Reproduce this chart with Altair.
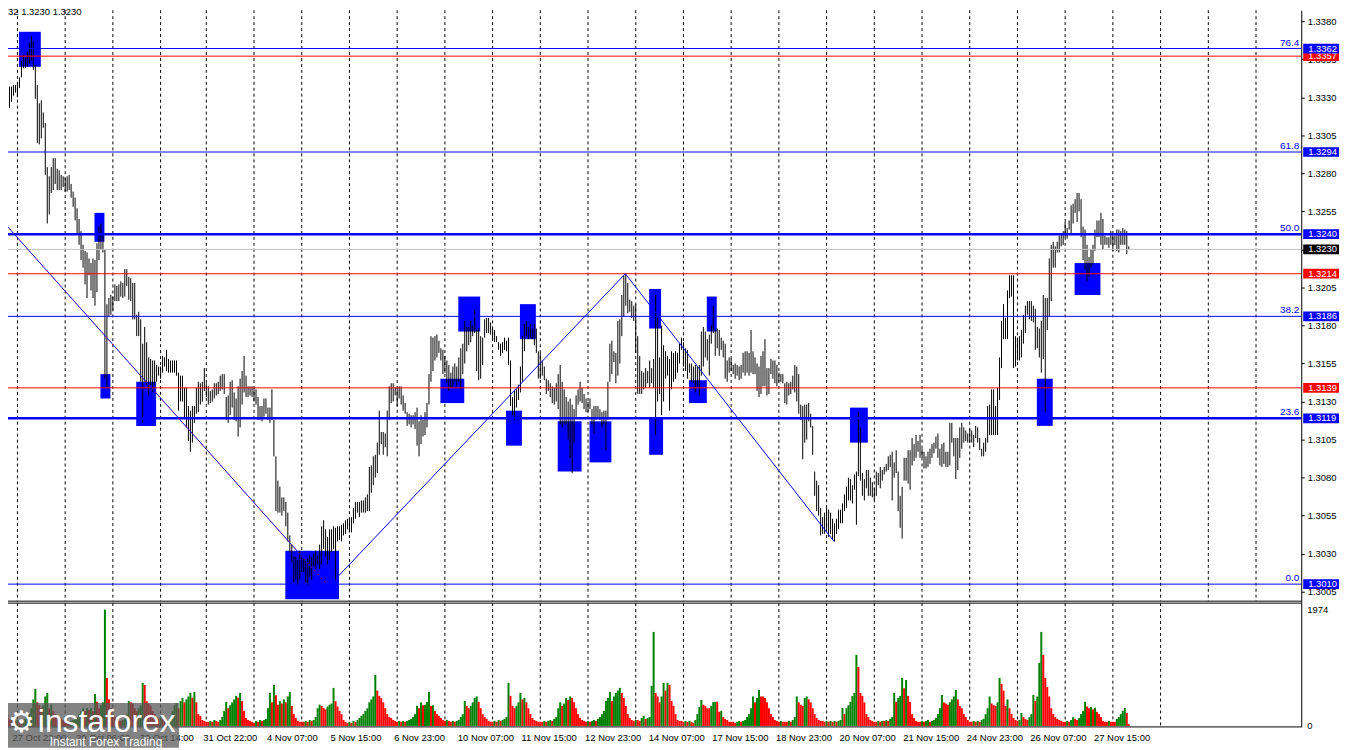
import altair as alt
import pandas as pd

# ---------------- data ----------------
# H1 bars, prices in pips above 1.3000 (high / low)
HIGH_PIPS = [
    335, 331, 335, 338, 337, 337, 338, 338, 339, 343, 354, 358, 356, 360, 366, 370, 367, 351, 338,
    326, 328, 320, 313, 284, 278, 284, 290, 290, 283,
    282, 279, 278, 277, 278, 279, 273, 268, 264, 257,
    250, 242, 233, 229, 228, 224, 221, 224, 223, 234,
    245, 247, 240, 230, 194, 198, 200, 199, 207, 206,
    207, 209, 208, 217, 217, 212, 211, 208, 208, 187,
    189, 184, 168, 179, 169, 159, 158, 157, 157, 154,
    153, 153, 160, 159, 164, 158, 157, 157, 157, 157,
    149, 147, 147, 139, 139, 127, 124, 127, 127, 139,
    143, 142, 143, 152, 142, 140, 137, 138, 142, 142,
    143, 147, 148, 148, 133, 134,
    143, 144, 136, 132, 140, 145, 150, 160, 147, 140,
    140, 140, 139, 138, 133, 127, 127, 132, 132, 126,
    126, 138, 118, 94, 78, 74, 67, 67, 64, 57,
    42, 36, 28, 28, 26, 32, 28, 27, 26, 27,
    29, 28, 30, 32, 29, 36, 48, 52, 46, 41,
    46, 46, 48, 47, 48, 48, 49, 50, 52, 53,
    53, 54, 60, 64, 64, 64, 65, 65, 67, 69,
    87, 88, 94, 95, 103, 124, 110, 110, 109, 124,
    140, 142, 142, 139, 139, 140, 140, 134, 129, 123,
    122, 121, 121, 123, 126, 117, 121, 118, 123, 129,
    148, 173, 172, 173, 174, 170, 165, 164, 160, 157,
    154, 149, 153, 155,
    153, 159, 165, 168, 183, 179, 179, 183, 180, 190,
    177, 178, 173, 172, 184, 185, 185, 182, 178, 177,
    173, 169, 168, 169, 172, 170, 172, 157, 133, 137,
    138, 141, 153, 173, 181, 183, 179, 181, 178, 181,
    178, 163, 162, 157, 153, 145, 144, 142, 140, 139,
    142, 148, 154, 143, 138, 133, 130, 132, 128, 125,
    134, 138, 143, 139, 135, 132, 130, 132, 125, 127,
    127, 127, 125, 123, 124, 124, 143, 168, 170, 163,
    162, 183, 184, 200, 213, 214, 208, 197, 196, 193,
    194, 173, 160, 150, 149, 152, 150, 157, 152, 158,
    200, 185, 159, 180, 167, 163, 160, 158, 163, 162,
    163, 162, 168, 172,
    169, 165, 164, 155, 155, 153, 154, 153, 154, 176,
    179, 176, 171, 174, 180, 193, 177, 178, 177, 172,
    170, 168, 157, 159, 158, 154, 155, 154, 153, 154,
    162, 163, 163, 162, 177, 163, 159, 155, 153, 160,
    163, 171, 152, 152, 158, 157, 157, 154, 149, 148,
    148, 142, 143, 142, 143, 147, 154, 153, 148, 128,
    127, 128, 128, 129, 122, 114, 84, 78, 75, 60,
    54, 57, 60, 59, 57, 53, 50, 53, 59, 59,
    63, 69, 74, 80, 79, 75, 82, 84, 123, 113,
    83, 79, 85, 85, 80, 77, 73, 84, 83, 87,
    85, 87, 89, 94, 95, 97, 90, 98, 84, 68,
    74, 93, 93, 98,
    98, 106, 102, 108, 104, 108, 99, 97, 94, 97,
    99, 102, 103, 107, 109, 99, 102, 103, 97, 97,
    116, 116, 106, 106, 106, 113, 116, 113, 111, 109,
    112, 111, 108, 114, 113, 106, 99, 103, 106, 127,
    128, 138, 138, 127, 139, 159, 183, 194, 185, 203,
    213, 213, 213, 173, 172, 173, 177, 187, 193, 196,
    196, 196, 193, 191, 179, 178, 183, 200, 198, 198,
    224, 233, 235, 232, 235, 239, 240, 242, 248, 244,
    249, 259, 260, 263, 267, 267, 263, 245, 243, 233,
    225, 230, 233, 243, 249, 249, 254, 250, 239, 238,
    238, 242, 240, 239, 243, 243, 242, 244, 243, 242,
    232,
]
LOW_PIPS = [
    319, 316, 322, 327, 323, 327, 331, 333, 330, 336, 343, 349, 349, 350, 352, 354, 348, 329, 300,
    299, 303, 310, 279, 247, 253, 267, 269, 273, 269,
    269, 269, 271, 268, 268, 269, 264, 258, 249, 240,
    233, 223, 218, 207, 198, 213, 203, 198, 193, 202,
    223, 230, 228, 145, 139, 186, 187, 190, 196, 196,
    196, 199, 198, 199, 206, 197, 196, 184, 184, 173,
    173, 143, 116, 143, 141, 134, 141, 136, 141, 143,
    147, 145, 149, 153, 150, 149, 149, 149, 149, 147,
    124, 130, 130, 119, 113, 104, 97, 103, 116, 122,
    123, 128, 130, 137, 133, 128, 129, 130, 132, 134,
    135, 137, 138, 135, 118, 116,
    121, 126, 118, 117, 107, 113, 128, 136, 133, 133,
    134, 133, 130, 128, 118, 118, 117, 120, 122, 118,
    116, 118, 94, 58, 57, 57, 55, 58, 48, 38,
    31, 24, 11, 13, 9, 13, 18, 18, 11, 9,
    15, 13, 22, 20, 23, 20, 23, 33, 28, 23,
    26, 31, 33, 13, 38, 39, 38, 42, 43, 46,
    44, 44, 50, 53, 57, 54, 57, 57, 57, 58,
    58, 70, 75, 80, 83, 95, 102, 95, 100, 94,
    118, 129, 130, 134, 127, 132, 128, 124, 122, 114,
    115, 113, 115, 112, 101, 94, 102, 107, 108, 113,
    128, 143, 150, 157, 159, 162, 157, 148, 149, 142,
    137, 139, 140, 143,
    140, 143, 138, 148, 155, 163, 167, 169, 173, 175,
    150, 144, 145, 154, 172, 175, 175, 174, 171, 169,
    169, 164, 160, 162, 164, 163, 154, 127, 121, 118,
    126, 131, 136, 143, 163, 173, 171, 172, 171, 167,
    162, 145, 145, 147, 144, 135, 137, 133, 129, 128,
    130, 125, 115, 113, 115, 115, 105, 93, 83, 103,
    120, 128, 130, 129, 125, 123, 123, 125, 115, 109,
    118, 119, 118, 113, 115, 98, 118, 143, 148, 156,
    142, 147, 155, 173, 186, 193, 188, 189, 185, 183,
    162, 135, 135, 135, 138, 139, 142, 139, 142, 139,
    108, 130, 135, 121, 130, 145, 147, 124, 138, 143,
    145, 149, 155, 164,
    153, 150, 145, 149, 143, 142, 136, 140, 134, 147,
    153, 159, 157, 147, 168, 175, 160, 165, 160, 164,
    159, 145, 143, 149, 150, 148, 145, 147, 144, 145,
    149, 147, 149, 147, 149, 148, 148, 137, 133, 135,
    140, 140, 134, 135, 148, 145, 142, 140, 143, 143,
    142, 129, 128, 134, 135, 138, 136, 130, 122, 118,
    92, 103, 105, 117, 113, 95, 68, 58, 55, 42,
    43, 43, 46, 41, 43, 39, 38, 43, 46, 50,
    50, 58, 60, 65, 65, 63, 72, 49, 81, 78,
    68, 65, 73, 68, 68, 67, 65, 68, 75, 73,
    78, 82, 84, 85, 87, 65, 80, 83, 58, 47,
    40, 78, 78, 76,
    72, 88, 91, 93, 97, 93, 93, 86, 86, 87,
    89, 93, 96, 99, 93, 88, 87, 89, 87, 87,
    88, 103, 94, 79, 85, 93, 99, 103, 104, 103,
    103, 103, 100, 106, 103, 98, 94, 94, 97, 103,
    108, 108, 108, 108, 108, 131, 152, 171, 171, 171,
    198, 199, 152, 153, 157, 157, 159, 168, 175, 187,
    184, 183, 182, 164, 165, 159, 149, 158, 123, 177,
    186, 196, 218, 218, 228, 228, 232, 233, 238, 237,
    243, 240, 247, 254, 248, 255, 238, 223, 217, 209,
    212, 218, 220, 229, 238, 238, 233, 230, 233, 233,
    231, 233, 229, 233, 229, 228, 233, 233, 233, 227,
    230,
]
# tick volumes per bar
VOLUMES = [
    200, 150, 250, 180, 120, 100, 150, 90,
    100, 85, 70, 85, 120, 150, 200, 300, 450, 630, 400, 350, 300, 350, 500, 560, 300, 360, 250, 200, 170, 150, 120, 100,
    85, 70, 70, 85, 100, 120, 150, 200, 250, 300, 250, 300, 270, 300, 250, 540, 410, 300, 350, 400, 1974, 815, 450, 300,
    200, 150, 100, 85, 85, 100, 120, 200, 420, 400, 380, 300, 250, 300, 350, 730, 695, 420, 380, 340, 250, 200, 150, 120,
    150, 120, 100, 85, 100, 150, 250, 350, 390, 300, 420, 475, 400, 450, 500, 560, 480, 575, 400, 200, 170, 100, 85, 70,
    70, 85, 70, 100, 85, 70, 100, 150, 255, 405, 300, 350, 400, 450, 510, 480, 560, 420, 255, 135, 100, 85, 70, 50,
    85, 70, 100, 85, 100, 120, 300, 560, 400, 695, 520, 360, 420, 380, 450, 400, 500, 575, 340, 200, 135, 85, 70, 70,
    70, 85, 70, 100, 85, 100, 150, 300, 360, 340, 300, 280, 330, 360, 380, 645, 420, 330, 255, 200, 100, 70, 50, 70,
    50, 85, 70, 100, 135, 170, 200, 255, 300, 400, 450, 500, 865, 600, 510, 470, 400, 300, 200, 150, 135, 100, 85, 70,
    85, 70, 85, 70, 85, 100, 120, 150, 200, 340, 300, 400, 350, 360, 405, 575, 340, 350, 255, 200, 170, 135, 100, 85,
    100, 85, 70, 85, 70, 85, 100, 150, 200, 425, 340, 300, 340, 400, 475, 500, 410, 300, 200, 150, 120, 85, 70, 70,
    85, 70, 100, 85, 100, 120, 150, 730, 510, 340, 300, 340, 400, 560, 450, 475, 400, 300, 200, 135, 100, 85, 70, 70,
    70, 85, 70, 85, 100, 85, 120, 150, 300, 400, 340, 380, 475, 440, 500, 475, 400, 300, 200, 135, 100, 85, 70, 85,
    70, 85, 100, 85, 120, 150, 200, 255, 425, 475, 575, 420, 500, 560, 600, 645, 560, 475, 340, 200, 135, 100, 85, 100,
    100, 85, 135, 170, 120, 135, 150, 680, 1595, 560, 500, 400, 500, 730, 600, 730, 695, 425, 340, 200, 100, 85, 85, 70,
    85, 70, 85, 70, 50, 100, 200, 320, 440, 360, 340, 300, 300, 340, 405, 410, 410, 240, 255, 150, 120, 100, 70, 70,
    70, 50, 70, 85, 70, 85, 100, 150, 200, 300, 500, 400, 475, 610, 500, 500, 475, 400, 300, 200, 150, 100, 85, 70,
    85, 70, 70, 70, 85, 70, 100, 150, 500, 400, 360, 340, 475, 500, 450, 400, 300, 200, 135, 100, 85, 85, 70, 85,
    70, 85, 70, 85, 70, 85, 100, 305, 200, 300, 350, 410, 510, 560, 1205, 1000, 560, 510, 400, 200, 150, 100, 85, 70,
    70, 85, 70, 85, 85, 100, 85, 120, 150, 560, 410, 475, 510, 815, 640, 780, 510, 405, 200, 135, 85, 70, 70, 85,
    70, 85, 100, 70, 85, 100, 135, 200, 300, 525, 400, 380, 360, 400, 450, 500, 610, 450, 340, 300, 200, 150, 100, 70,
    70, 85, 70, 85, 70, 100, 120, 200, 300, 500, 380, 350, 340, 400, 815, 715, 600, 340, 450, 300, 200, 135, 100, 85,
    100, 220, 150, 120, 100, 150, 200, 525, 425, 500, 1070, 1595, 1205, 815, 660, 500, 300, 200, 150, 120, 100, 85, 70, 70,
    85, 70, 100, 150, 120, 100, 135, 200, 255, 410, 330, 300, 320, 280, 310, 240, 200, 150, 85, 70, 70, 85, 70, 70,
    70, 120, 150, 200, 255, 305, 220, 30,
]

# day separators (bar index of each day's first bar)
GRID_BARS = [8, 32, 56, 80, 103, 127, 151, 175, 199, 223, 247, 271, 295, 319,
             343, 367, 391, 415, 439, 463, 487, 511, 535, 559, 583, 607, 631]
VOL_GRID_LAST = 583

TIME_LABELS = ["24 Oct 14:00", "27 Oct 22:00", "29 Oct 06:00", "30 Oct 14:00", "31 Oct 22:00",
               "4 Nov 07:00", "5 Nov 15:00", "6 Nov 23:00", "10 Nov 07:00", "11 Nov 15:00",
               "12 Nov 23:00", "14 Nov 07:00", "17 Nov 15:00", "18 Nov 23:00", "20 Nov 07:00",
               "21 Nov 15:00", "24 Nov 23:00", "26 Nov 07:00", "27 Nov 15:00"]
TIME_LABEL_BARS = [-26.5, 5.5, 37.5, 69.5, 101.5, 133.5, 165.5, 197.5, 229.5, 261.5,
                   293.5, 325.5, 357.5, 389.5, 421.5, 453.5, 485.5, 517.5, 549.5]

PRICE_TICKS = [1.3005, 1.3030, 1.3055, 1.3080, 1.3105, 1.3130, 1.3155, 1.3180,
               1.3205, 1.3230, 1.3255, 1.3280, 1.3305, 1.3330, 1.3355, 1.3380]

FIB_PRICES = [1.3362, 1.3294, 1.3240, 1.3186, 1.3119, 1.3010]
FIB_TEXT = ["76.4", "61.8", "50.0", "38.2", "23.6", "0.0"]
FIB_WIDTH = [1, 1, 2.5, 1, 2.5, 1]
RED_LEVELS = [1.3357, 1.3214, 1.3139]
CURRENT_PRICE = 1.3230

# blue zones: first bar, last bar, top pips, bottom pips
BOX_START = [8.75, 46.75, 49.75, 67.75, 142.75, 220.75, 229.75, 253.75, 260.75, 279.75,
             295.75, 325.75, 325.75, 345.75, 354.75, 426.75, 520.75, 539.75]
BOX_END = [19.75, 51.75, 54.75, 77.75, 169.75, 232.75, 240.75, 261.75, 268.75, 291.75,
           306.75, 331.75, 332.75, 354.75, 359.75, 435.75, 528.75, 552.75]
BOX_TOP = [373, 254, 148, 143, 32, 145, 199, 124, 194, 117, 117, 204, 119, 144, 199, 126, 145, 221]
BOX_BOTTOM = [350, 235, 132, 114, 0, 129, 176, 101, 171, 84, 90, 178, 95, 129, 176, 103, 114, 200]

# zigzag trend lines (bar index, pips)
ZIGZAG_A_BARS = [-0.75, 163.25]
ZIGZAG_A_PIPS = [250.5, 10.5]
ZIGZAG_B_BARS = [169.6, 313.75, 418.75]
ZIGZAG_B_PIPS = [15.5, 214, 38]

# right-hand price labels (drawn in this order)
TAG_PRICES = [1.3362, 1.3294, 1.3240, 1.3230, 1.3214, 1.3186, 1.3139, 1.3119, 1.3010]
TAG_COLORS = ["#0000FF", "#0000FF", "#0000FF", "#000000", "#FF0000", "#0000FF", "#FF0000", "#0000FF", "#0000FF"]

VOL_MAX_LABEL = 1974

# ---------------- layout constants ----------------
FONT = "Liberation Sans"
FS = 9.5
W, H = 1301, 721
X_DOM = [3.25, 653.75]
P_DOM = [1.291616, 1.3387186]
V_DOM = [-16.9, 12147.7]
P_PANEL_BOTTOM = 1.29988
V_PANEL_TOP = 2084
TAG_HALF = 0.00032

XS = alt.Scale(domain=X_DOM, nice=False, zero=False)
PS = alt.Scale(domain=P_DOM, nice=False, zero=False)
VS = alt.Scale(domain=V_DOM, nice=False, zero=False)


def X(f):
    return alt.X(f, type="quantitative", scale=XS, axis=None)


def PY(f, axis=None):
    return alt.Y(f, type="quantitative", scale=PS, axis=axis)


def VY(f):
    return alt.Y(f, type="quantitative", scale=VS, axis=None)


n = min(len(HIGH_PIPS), len(LOW_PIPS))
bars = pd.DataFrame({
    "bar": list(range(n)),
    "high": [1.3 + h / 10000 for h in HIGH_PIPS[:n]],
    "low": [1.3 + l / 10000 for l in LOW_PIPS[:n]],
})

vcols = []
for k, v in enumerate(VOLUMES):
    up = k == 0 or v > VOLUMES[k - 1]
    vcols.append("#008000" if up else "#FF0000")
vol = pd.DataFrame({
    "xl": [k - 0.5 for k in range(len(VOLUMES))],
    "xr": [k + 0.5 for k in range(len(VOLUMES))],
    "v": VOLUMES, "zero": [0] * len(VOLUMES), "col": vcols,
})

grid_df = pd.DataFrame({"bar": GRID_BARS, "ptop": P_DOM[1], "pbot": P_PANEL_BOTTOM})
vgrid_df = pd.DataFrame({"bar": [b for b in GRID_BARS if b <= VOL_GRID_LAST]})
vgrid_df["vtop"] = V_PANEL_TOP
vgrid_df["vbot"] = V_DOM[0]

boxes = pd.DataFrame({
    "x0": BOX_START, "x1": BOX_END,
    "top": [1.3 + t / 10000 for t in BOX_TOP],
    "bot": [max(1.3 + b / 10000, P_PANEL_BOTTOM) for b in BOX_BOTTOM],
})

fib = pd.DataFrame({"p": FIB_PRICES, "t": FIB_TEXT, "w": FIB_WIDTH, "x0": X_DOM[0], "x1": X_DOM[1]})
red = pd.DataFrame({"p": RED_LEVELS, "x0": X_DOM[0], "x1": X_DOM[1]})
cur = pd.DataFrame({"p": [CURRENT_PRICE], "x0": X_DOM[0], "x1": X_DOM[1]})

zz_a = pd.DataFrame({"bar": ZIGZAG_A_BARS, "p": [1.3 + q / 10000 for q in ZIGZAG_A_PIPS]})
zz_b = pd.DataFrame({"bar": ZIGZAG_B_BARS, "p": [1.3 + q / 10000 for q in ZIGZAG_B_PIPS]})

tags = pd.DataFrame({"p": TAG_PRICES, "c": TAG_COLORS,
                     "t": [f"{p:.4f}" for p in TAG_PRICES]})
tags["hi"] = tags["p"] + TAG_HALF
tags["lo"] = tags["p"] - TAG_HALF
tag_red_top = pd.DataFrame({"p": [1.3357], "t": ["1.3357"]})
tag_red_top["hi"] = tag_red_top["p"] + TAG_HALF
tag_red_top["lo"] = tag_red_top["p"] - TAG_HALF

seps_p = pd.DataFrame({"p": [P_PANEL_BOTTOM], "x0": X_DOM[0], "x1": X_DOM[1]})
seps_v = pd.DataFrame({"v": [V_PANEL_TOP, V_DOM[0]], "x0": X_DOM[0], "x1": X_DOM[1]})

times = pd.DataFrame({"bar": TIME_LABEL_BARS, "t": TIME_LABELS})
vlab = pd.DataFrame({"v": [VOL_MAX_LABEL, 0], "t": [str(VOL_MAX_LABEL), "0"], "dy": [0, -5]})

layers = []

# day grid
layers.append(alt.Chart(grid_df).mark_rule(color="black", strokeWidth=1, strokeDash=[3, 3]).encode(
    x=X("bar"), y=PY("ptop"), y2="pbot"))
layers.append(alt.Chart(vgrid_df).mark_rule(color="black", strokeWidth=1, strokeDash=[3, 3]).encode(
    x=X("bar"), y=VY("vtop"), y2="vbot"))

# blue zones
layers.append(alt.Chart(boxes).mark_rect(color="#0000FF", opacity=1).encode(
    x=X("x0"), x2="x1", y=PY("top"), y2="bot"))

# price bars
layers.append(alt.Chart(bars).mark_rule(color="black", strokeWidth=1).encode(
    x=X("bar"),
    y=PY("low", axis=alt.Axis(orient="right", values=PRICE_TICKS, format=".4f", tickSize=3,
                              labelPadding=3, domainColor="black", tickColor="black",
                              labelColor="black", labelFont=FONT, labelFontSize=FS,
                              grid=False, title=None, labelOverlap=False, labelFlush=False)),
    y2="high"))

# current price line
layers.append(alt.Chart(cur).mark_rule(color="#C0C0C0", strokeWidth=1).encode(
    x=X("x0"), x2="x1", y=PY("p")))
# red levels
layers.append(alt.Chart(red).mark_rule(color="#FF0000", strokeWidth=1).encode(
    x=X("x0"), x2="x1", y=PY("p")))
# fibonacci levels
layers.append(alt.Chart(fib).mark_rule(color="#0000FF").encode(
    x=X("x0"), x2="x1", y=PY("p"), strokeWidth=alt.StrokeWidth("w:Q", scale=None)))

# zigzag lines
layers.append(alt.Chart(zz_a).mark_line(color="#0000FF", strokeWidth=1).encode(x=X("bar"), y=PY("p")))
layers.append(alt.Chart(zz_a).mark_line(color="#FF0000", strokeWidth=1, strokeDash=[1, 4]).encode(
    x=X("bar"), y=PY("p")))
layers.append(alt.Chart(zz_b).mark_line(color="#0000FF", strokeWidth=1).encode(x=X("bar"), y=PY("p")))

# fib level texts
layers.append(alt.Chart(fib).mark_text(align="right", baseline="bottom", dy=-1, color="#0000FF",
                                       font=FONT, fontSize=10).encode(
    x=alt.value(1299), y=PY("p"), text="t:N"))

# separators
layers.append(alt.Chart(seps_p).mark_rule(color="black", strokeWidth=1).encode(
    x=X("x0"), x2="x1", y=PY("p")))
layers.append(alt.Chart(seps_v).mark_rule(color="black", strokeWidth=1).encode(
    x=X("x0"), x2="x1", y=VY("v")))

# volumes
layers.append(alt.Chart(vol).mark_rect().encode(
    x=X("xl"), x2="xr", y=VY("zero"), y2="v", color=alt.Color("col:N", scale=None)))

# right price tags
layers.append(alt.Chart(tag_red_top).mark_rect(color="#FF0000").encode(
    x=alt.value(1303), x2=alt.value(1339), y=PY("hi"), y2="lo"))
layers.append(alt.Chart(tag_red_top).mark_text(align="left", baseline="middle", color="white",
                                               font=FONT, fontSize=FS).encode(
    x=alt.value(1308), y=PY("p"), text="t:N"))
layers.append(alt.Chart(tags).mark_rect().encode(
    x=alt.value(1303), x2=alt.value(1339), y=PY("hi"), y2="lo", color=alt.Color("c:N", scale=None)))
layers.append(alt.Chart(tags).mark_text(align="left", baseline="middle", color="white",
                                        font=FONT, fontSize=FS).encode(
    x=alt.value(1308), y=PY("p"), text="t:N"))

# volume scale labels
layers.append(alt.Chart(vlab).mark_text(align="left", baseline="middle", color="black",
                                        font=FONT, fontSize=FS).encode(
    x=alt.value(1307), y=VY("v"), text="t:N", yOffset=alt.YOffset("dy:Q", scale=None)))

# time labels
layers.append(alt.Chart(times).mark_text(align="left", baseline="middle", color="black",
                                         font=FONT, fontSize=FS).encode(
    x=X("bar"), y=alt.value(732), text="t:N"))

# header text
layers.append(alt.Chart(pd.DataFrame({"t": ["1.3232 1.3232 1.3230 1.3230"]})).mark_text(
    align="right", baseline="middle", color="black", font=FONT, fontSize=FS).encode(
    x=alt.value(74), y=alt.value(2), text="t:N"))

# logo
logo = pd.DataFrame({"t": ["instaforex"], "s": ["Instant Forex Trading"], "g": ["\u2699"]})
layers.append(alt.Chart(logo).mark_rect(color="#5a5a5a", opacity=0.75).encode(
    x=alt.value(-8), x2=alt.value(172), y=alt.value(697), y2=alt.value(742)))
layers.append(alt.Chart(logo).mark_text(align="left", baseline="middle", color="white",
                                        font="DejaVu Sans", fontSize=30).encode(
    x=alt.value(0), y=alt.value(717), text="g:N"))
layers.append(alt.Chart(logo).mark_text(align="left", baseline="middle", color="white",
                                        font="Liberation Sans", fontSize=32).encode(
    x=alt.value(30), y=alt.value(716), text="t:N"))
layers.append(alt.Chart(logo).mark_text(align="left", baseline="middle", color="white",
                                        font="Liberation Sans", fontSize=12).encode(
    x=alt.value(42), y=alt.value(736), text="s:N"))

chart = alt.layer(*layers).resolve_scale(y="independent").properties(
    width=W, height=H,
    padding={"left": 0, "top": 0, "right": 41, "bottom": 21},
    autosize=alt.AutoSizeParams(type="none"),
    background="white",
).configure_view(strokeWidth=0)

chart.save("out.html", embed_options={"renderer": "svg", "actions": False})
